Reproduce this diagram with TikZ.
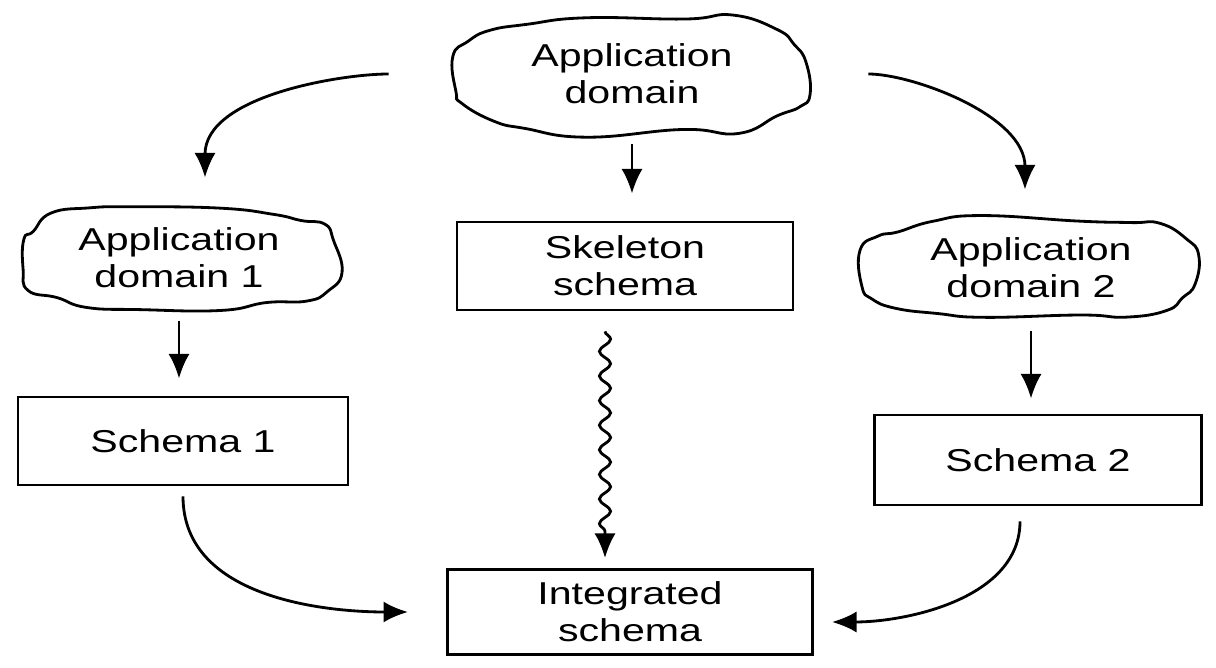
\documentclass[tikz,border=0pt]{standalone}
\usepackage{fontspec}
\setmainfont{Liberation Sans}[FakeStretch=1.3]
\usetikzlibrary{arrows.meta,decorations.pathmorphing,shapes.geometric}

% zvlneny obrys kolem uzlu: #1 uzel, #2 a #3 poloosy
\newcommand\oblak[3]{%
  \draw[shift={(#1.center)}] plot[smooth cycle,tension=0.8,samples=20,domain=9:351]
    ({#2*sign(cos(\x))*abs(cos(\x))^0.7+0.05*rand},{#3*sign(sin(\x))*abs(sin(\x))^0.7+0.05*rand});}

\begin{document}
\begin{tikzpicture}[font=\fontsize{9}{10.5}\selectfont,line width=0.8pt,
  blob/.style={ellipse,inner sep=0pt,align=center},
  box/.style={rectangle,draw,inner sep=0pt,align=center},
  sip/.style={-{Latex[length=7pt,width=6pt]}},
  vlnka/.style={sip,decorate,decoration={snake,segment length=7pt,amplitude=1.6pt,post length=7pt}}]
  \pgfmathsetseed{5}
  \useasboundingbox (0,0) rectangle (12.16,6.67);
  % oblasti (mraky) a schemata
  \node[blob,minimum width=3.6cm,minimum height=1.18cm] (dom) at (6.32,5.93) {Application\\domain};
  \node[blob,minimum width=3.2cm,minimum height=1.04cm] (dom1) at (1.79,4.09) {Application\\domain 1};
  \node[blob,minimum width=3.36cm,minimum height=1.04cm] (dom2) at (10.31,3.99) {Application\\domain 2};
  \oblak{dom}{1.8}{0.59}
  \oblak{dom1}{1.6}{0.52}
  \oblak{dom2}{1.68}{0.52}
  \node[box,minimum width=3.36cm,minimum height=0.88cm] (skel) at (6.25,4.01) {Skeleton\\schema};
  \node[box,minimum width=3.3cm,minimum height=0.88cm] (sch1) at (1.83,2.26) {Schema 1};
  \node[box,minimum width=3.27cm,minimum height=0.9cm] (sch2) at (10.38,2.07) {Schema 2};
  \node[box,minimum width=3.65cm,minimum height=0.85cm] (integ) at (6.30,0.55) {Integrated\\schema};
  % sipky
  \draw[sip,shorten <=0.62cm,shorten >=0.27cm] (dom.west) to[out=180,in=90] ([xshift=0.26cm]dom1.north);
  \draw[sip,shorten <=0.55cm,shorten >=0.25cm] (dom.east) to[out=0,in=90] ([xshift=-0.06cm]dom2.north);
  \draw[sip,shorten <=0.1cm,shorten >=0.27cm] (dom.south) -- (dom.south |- skel.north);
  \draw[sip,shorten <=0.1cm,shorten >=0.17cm] (dom1.south) -- (dom1.south |- sch1.north);
  \draw[sip,shorten <=0.1cm,shorten >=0.15cm] (dom2.south) -- (dom2.south |- sch2.north);
  \draw[vlnka] ([shift={(-0.2,-0.2)}]skel.south) -- ([shift={(-0.25,0.1)}]integ.north);
  \draw[sip,shorten <=0.1cm,shorten >=0.38cm] (sch1.south) to[out=-90,in=180] (integ.west);
  \draw[sip,shorten <=0.15cm,shorten >=0.18cm] ([xshift=-0.18cm]sch2.south) to[out=-90,in=0] ([yshift=-0.1cm]integ.east);
\end{tikzpicture}
\end{document}
